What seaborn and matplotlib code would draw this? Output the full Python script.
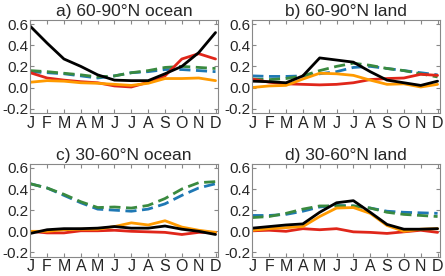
import numpy as np
import pandas as pd
import seaborn as sns
import matplotlib.pyplot as plt

months = ['J', 'F', 'M', 'A', 'M', 'J', 'J', 'A', 'S', 'O', 'N', 'D']

titles = ['a) 60-90°N ocean', 'b) 60-90°N land',
          'c) 30-60°N ocean', 'd) 30-60°N land']

# a) 60-90N ocean
a_black = [0.58, 0.42, 0.27, 0.20, 0.12, 0.07, 0.065, 0.065, 0.13, 0.20, 0.33, 0.52]
a_red = [0.14, 0.09, 0.07, 0.055, 0.045, 0.015, 0.005, 0.05, 0.11, 0.27, 0.32, 0.27]
a_orange = [0.05, 0.065, 0.06, 0.045, 0.04, 0.03, 0.02, 0.04, 0.085, 0.085, 0.09, 0.065]
a_green = [0.16, 0.15, 0.135, 0.12, 0.10, 0.11, 0.14, 0.16, 0.19, 0.20, 0.19, 0.18]
a_blue = [0.15, 0.14, 0.13, 0.11, 0.09, 0.11, 0.14, 0.15, 0.17, 0.17, 0.16, 0.15]

# b) 60-90N land
b_black = [0.06, 0.055, 0.045, 0.11, 0.28, 0.26, 0.24, 0.15, 0.07, 0.045, 0.02, 0.06]
b_red = [0.08, 0.05, 0.035, 0.03, 0.025, 0.03, 0.045, 0.075, 0.085, 0.09, 0.125, 0.115]
b_orange = [0.0, 0.015, 0.02, 0.08, 0.135, 0.13, 0.115, 0.07, 0.03, 0.035, 0.005, 0.03]
b_green = [0.08, 0.075, 0.085, 0.11, 0.16, 0.20, 0.23, 0.21, 0.18, 0.16, 0.13, 0.10]
b_blue = [0.11, 0.105, 0.105, 0.11, 0.13, 0.15, 0.19, 0.20, 0.18, 0.16, 0.14, 0.12]

# c) 30-60N ocean
c_black = [-0.02, 0.015, 0.025, 0.025, 0.03, 0.045, 0.03, 0.03, 0.05, 0.02, 0.0, -0.03]
c_red = [0.0, -0.015, -0.015, 0.005, 0.005, 0.01, 0.0, -0.005, -0.01, -0.03, -0.01, -0.01]
c_orange = [0.0, 0.0, 0.015, 0.02, 0.02, 0.045, 0.08, 0.06, 0.10, 0.04, 0.01, -0.01]
c_green = [0.45, 0.41, 0.35, 0.28, 0.225, 0.23, 0.22, 0.245, 0.31, 0.40, 0.46, 0.47]
c_blue = [0.45, 0.41, 0.34, 0.27, 0.21, 0.20, 0.19, 0.21, 0.26, 0.34, 0.41, 0.45]

# d) 30-60N land
d_black = [0.03, 0.045, 0.06, 0.07, 0.18, 0.27, 0.29, 0.18, 0.065, 0.02, 0.02, 0.025]
d_red = [0.005, 0.01, 0.0, 0.025, 0.015, 0.025, -0.005, -0.01, -0.02, -0.005, 0.01, -0.01]
d_orange = [0.01, 0.025, 0.035, 0.045, 0.14, 0.22, 0.225, 0.17, 0.055, 0.0, 0.02, 0.025]
d_green = [0.13, 0.14, 0.17, 0.21, 0.24, 0.24, 0.24, 0.22, 0.18, 0.16, 0.15, 0.14]
d_blue = [0.15, 0.15, 0.16, 0.19, 0.23, 0.245, 0.24, 0.22, 0.19, 0.18, 0.175, 0.17]

panels = [
    [a_blue, a_green, a_red, a_orange, a_black],
    [b_blue, b_green, b_red, b_orange, b_black],
    [c_blue, c_green, c_red, c_orange, c_black],
    [d_blue, d_green, d_red, d_orange, d_black],
]
# stil pentru fiecare serie (culoare, linie)
culori = ['#1f78b4', '#3a8a3f', '#e0261a', '#ff9a00', 'black']
dashed = [True, True, False, False, False]

sns.set_style("white")
plt.rcParams['font.family'] = ['Liberation Sans', 'DejaVu Sans']

fig = plt.figure(figsize=(4.45, 2.76), dpi=100)
pozitii = [
    [0.068, 0.591, 0.422, 0.337],
    [0.567, 0.591, 0.422, 0.337],
    [0.068, 0.07, 0.422, 0.337],
    [0.567, 0.07, 0.422, 0.337],
]
x = np.arange(12)

for k, poz in enumerate(pozitii):
    ax = fig.add_axes(poz)
    for serie, cul, dsh in zip(panels[k], culori, dashed):
        df = pd.DataFrame({'luna': x, 'val': serie})
        sns.lineplot(data=df, x='luna', y='val', ax=ax, color=cul, lw=2.0,
                     linestyle=(0, (4, 2)) if dsh else '-')
    ax.set_xlim(0, 11.15)
    ax.set_ylim(-0.24, 0.64)
    ax.set_xticks(x)
    ax.set_xticklabels(months, fontsize=11.5)
    ax.set_yticks([-0.2, 0.0, 0.2, 0.4, 0.6])
    ax.set_yticklabels(['-0.2', '0.0', '0.2', '0.4', '0.6'], fontsize=11)
    ax.tick_params(direction='in', length=3, top=True, right=True, left=True,
                   bottom=True, color='#888888')
    ax.tick_params(axis='x', pad=2)
    ax.tick_params(axis='y', pad=1.5)
    for s in ax.spines.values():
        s.set_color('#888888')
        s.set_linewidth(0.8)
    ax.set_xlabel('')
    ax.set_ylabel('')
    ax.set_title(titles[k], fontsize=12.5, pad=3)

fig.savefig('out.png', dpi=100)
